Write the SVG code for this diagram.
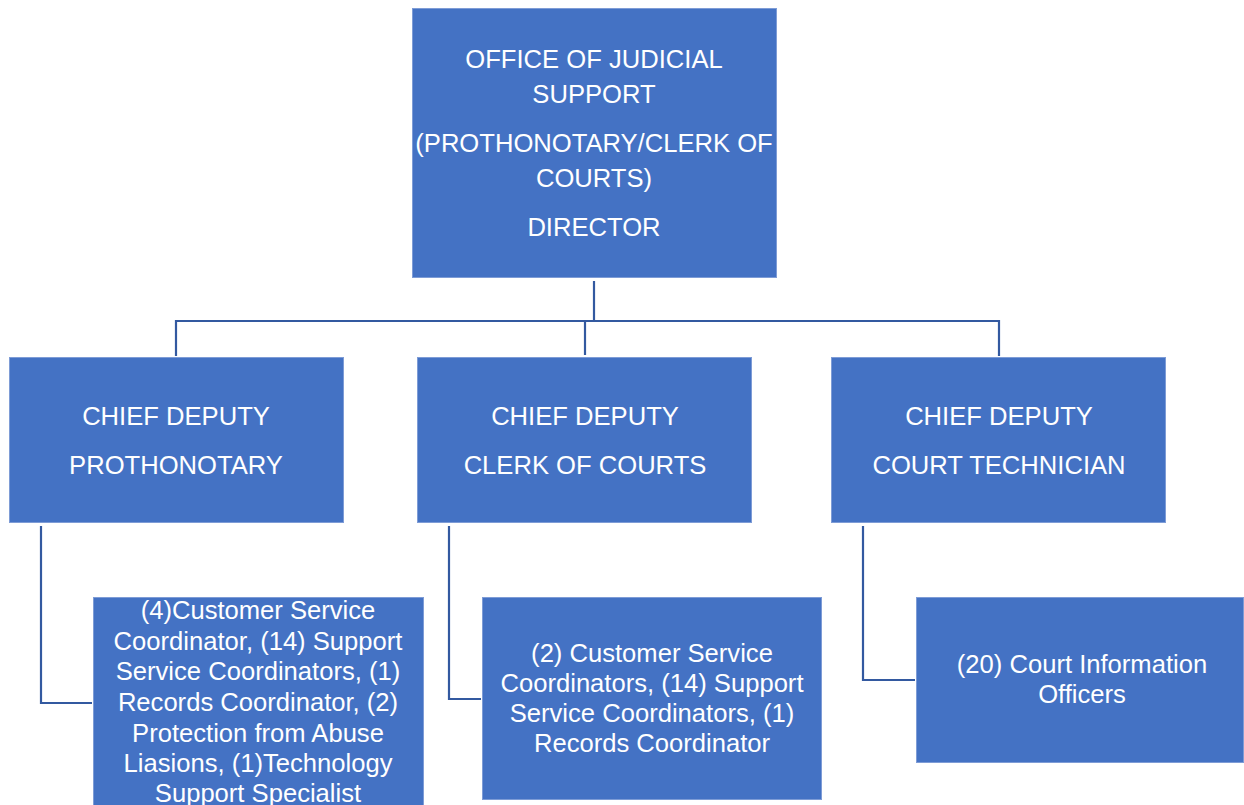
<svg xmlns="http://www.w3.org/2000/svg" width="1244" height="805" viewBox="0 0 1244 805">
<style>
.box{fill:#4472C4;stroke:#7E9CD6;stroke-width:1}
.t{font-family:"Liberation Sans",Arial,sans-serif;font-size:25.6px;fill:#FFFFFF;text-anchor:middle}
.c{fill:none;stroke:#3359A0;stroke-width:2.2}
</style>
<rect width="1244" height="805" fill="#FFFFFF"/>
<g id="connectors">
<path class="c" d="M594,281 V321"/>
<path class="c" d="M176,356 V321 H999 V356"/>
<path class="c" d="M585,321 V355"/>
<path class="c" d="M41,526 V703 H92"/>
<path class="c" d="M449,526 V699 H481"/>
<path class="c" d="M863,526 V680 H915"/>
</g>
<g id="director">
<rect class="box" x="412.5" y="8.5" width="364" height="269"/>
<text class="t" x="594" y="68">OFFICE OF JUDICIAL</text>
<text class="t" x="594" y="103">SUPPORT</text>
<text class="t" x="594" y="152">(PROTHONOTARY/CLERK OF</text>
<text class="t" x="594" y="187">COURTS)</text>
<text class="t" x="594" y="236">DIRECTOR</text>
</g>
<g id="deputy-prothonotary">
<rect class="box" x="9.5" y="357.5" width="334" height="165"/>
<text class="t" x="176" y="425">CHIEF DEPUTY</text>
<text class="t" x="176" y="474">PROTHONOTARY</text>
</g>
<g id="deputy-clerk">
<rect class="box" x="417.5" y="357.5" width="334" height="165"/>
<text class="t" x="585" y="425">CHIEF DEPUTY</text>
<text class="t" x="585" y="474">CLERK OF COURTS</text>
</g>
<g id="deputy-technician">
<rect class="box" x="831.5" y="357.5" width="334" height="165"/>
<text class="t" x="999" y="425">CHIEF DEPUTY</text>
<text class="t" x="999" y="474">COURT TECHNICIAN</text>
</g>
<g id="prothonotary-staff">
<rect class="box" x="93.5" y="597.5" width="330" height="215"/>
<text class="t" x="258" y="619">(4)Customer Service</text>
<text class="t" x="258" y="650">Coordinator, (14) Support</text>
<text class="t" x="258" y="680">Service Coordinators, (1)</text>
<text class="t" x="258" y="711">Records Coordinator, (2)</text>
<text class="t" x="258" y="742">Protection from Abuse</text>
<text class="t" x="258" y="772">Liasions, (1)Technology</text>
<text class="t" x="258" y="802">Support Specialist</text>
</g>
<g id="clerk-staff">
<rect class="box" x="482.5" y="597.5" width="339" height="202"/>
<text class="t" x="652" y="662">(2) Customer Service</text>
<text class="t" x="652" y="692">Coordinators, (14) Support</text>
<text class="t" x="652" y="722">Service Coordinators, (1)</text>
<text class="t" x="652" y="752">Records Coordinator</text>
</g>
<g id="technician-staff">
<rect class="box" x="916.5" y="597.5" width="327" height="165"/>
<text class="t" x="1082" y="673">(20) Court Information</text>
<text class="t" x="1082" y="703">Officers</text>
</g>
</svg>
